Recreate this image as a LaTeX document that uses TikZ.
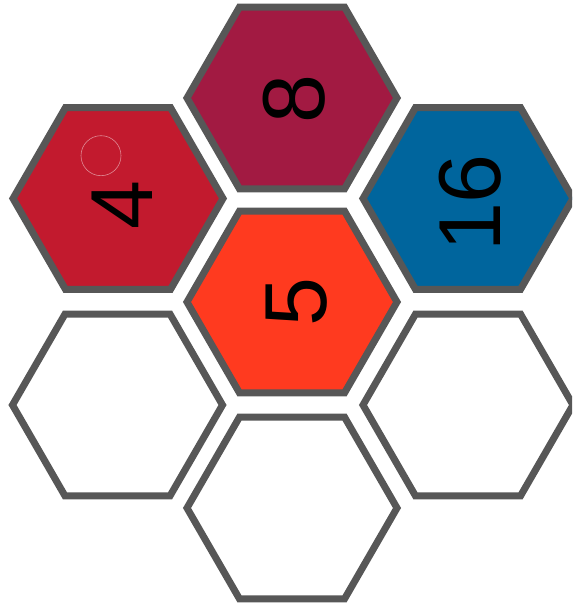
\documentclass[tikz,border=0pt]{standalone}
\usepackage{fontspec}
\setmainfont{Liberation Sans}
\definecolor{hexline}{HTML}{575757}
\definecolor{cfour}{HTML}{C21A2E}
\definecolor{ceight}{HTML}{A21A42}
\definecolor{cfive}{HTML}{FF3A1F}
\definecolor{csixteen}{HTML}{00659D}
\definecolor{ringc}{HTML}{E08A94}
\newcommand\drawhex[2]{\draw[hexcell,#2,shift={(#1)}] (0:105) -- (60:105) -- (120:105) -- (180:105) -- (240:105) -- (300:105) -- cycle;}
\begin{document}
\begin{tikzpicture}[x=1pt,y=1pt,
  hexcell/.style={draw=hexline, line width=7pt, line join=miter},
  digit/.style={inner sep=0pt, rotate=90, text=black, font=\fontsize{88}{90}\selectfont}]
\useasboundingbox (0,0) rectangle (572,612);
\clip (0,0) rectangle (572,612);
\coordinate (hTop) at (292,514);
\coordinate (hMid) at (292,310);
\coordinate (hBot) at (292,104);
\coordinate (hUL) at (118,413.5);
\coordinate (hLL) at (117.5,207);
\coordinate (hUR) at (468,413.5);
\coordinate (hLR) at (468,207);
\drawhex{hTop}{fill=ceight}
\drawhex{hMid}{fill=cfive}
\drawhex{hBot}{fill=white}
\drawhex{hUL}{fill=cfour}
\drawhex{hLL}{fill=white}
\drawhex{hUR}{fill=csixteen}
\drawhex{hLR}{fill=white}
\draw[ringc, line width=0.6pt] (101,456.3) circle (20);
\node[digit] (nFour) at (122.5,407) {4};
\node[digit] (nEight) at (294.5,513) {8};
\node[digit] (nFive) at (296.5,310) {5};
\node[digit] (nSixteen) at (470.5,409) {16};
\end{tikzpicture}
\end{document}
